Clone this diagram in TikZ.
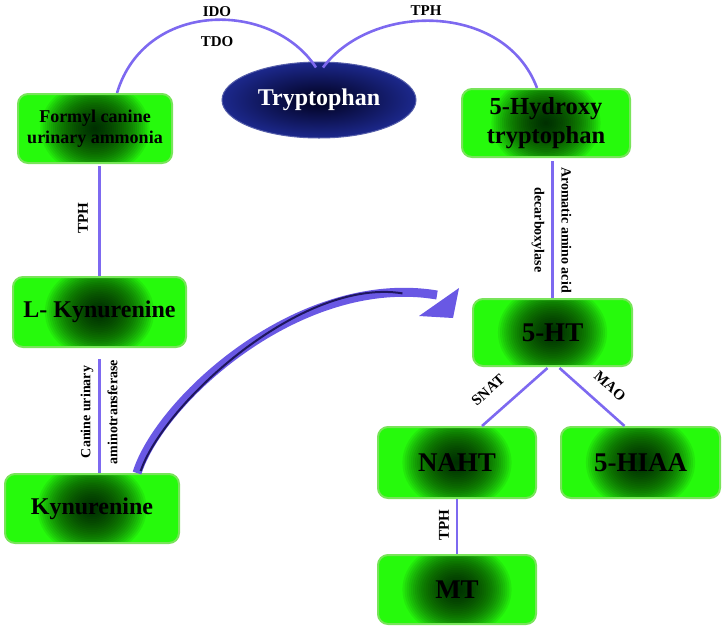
\documentclass[tikz,border=0pt]{standalone}
\usepackage{fontspec}
\setmainfont{Liberation Serif}
\usetikzlibrary{shapes.geometric,arrows.meta,calc}
\definecolor{boxg}{RGB}{38,250,12}
\definecolor{boxb}{RGB}{120,228,90}
\definecolor{glowc}{RGB}{0,20,0}
\definecolor{lnc}{RGB}{125,105,240}
\definecolor{ellout}{RGB}{28,40,140}
\definecolor{ellin}{RGB}{0,0,28}
\definecolor{arrc}{RGB}{105,88,228}
\definecolor{arrd}{RGB}{30,22,95}
\begin{document}
\begin{tikzpicture}[x=1pt,y=-1pt,
  box/.style={draw=boxb, line width=2pt, fill=boxg, rounded corners=10pt, inner sep=0pt, align=center,
    font=\bfseries\fontsize{24}{28}\selectfont,
    path picture={\foreach \k in {1,...,26}{\fill[glowc, opacity=0.07] (path picture bounding box.center) ellipse [x radius=2.1*\k pt, y radius=1.8*\k pt];}}},
  bigbox/.style={box, font=\bfseries\fontsize{27}{30}\selectfont},
  conn/.style={draw=lnc, line width=2.6pt},
  lab/.style={font=\bfseries\fontsize{15}{17}\selectfont, inner sep=0pt},
  rlab/.style={lab, align=center, font=\bfseries\fontsize{14}{27}\selectfont},
]
\useasboundingbox (0,0) rectangle (725,630);

% nodes
\node[box, minimum width=154pt, minimum height=69pt, font=\bfseries\fontsize{18}{21}\selectfont] (formyl) at (95,128.5) {Formyl canine\\urinary ammonia};
\node[ellipse, minimum width=194pt, minimum height=76pt, inner color=ellin, outer color=ellout, draw=ellout!75!white, line width=1pt, text=white, font=\bfseries\fontsize{24}{28}\selectfont] (tryp) at (319,100) {Tryptophan};
\node[box, minimum width=168pt, minimum height=68pt, font=\bfseries\fontsize{24.5}{29}\selectfont] (hyd) at (546,123) {5-Hydroxy\\tryptophan};
\node[box, minimum width=173pt, minimum height=70pt] (lkyn) at (99.5,312) {L- Kynurenine};
\node[box, minimum width=174pt, minimum height=69pt] (kyn) at (92,508.5) {Kynurenine};
\node[bigbox, minimum width=159pt, minimum height=67pt] (ht) at (552.5,332.5) {5-HT};
\node[bigbox, minimum width=158pt, minimum height=71pt] (naht) at (457,462.5) {NAHT};
\node[bigbox, minimum width=159pt, minimum height=71pt] (hiaa) at (640.5,462.5) {5-HIAA};
\node[bigbox, minimum width=158pt, minimum height=69pt] (mt) at (457,589.5) {MT};

% connectors
\draw[conn] ($(formyl.north)+(22,0)$) .. controls (145,0) and (272,0) .. ($(tryp.north)+(-3,6)$);
\draw[conn] ($(tryp.north)+(4,6)$) .. controls (372,2) and (505,2) .. ($(hyd.north)+(-9,0)$);
\draw[conn] ($(formyl.south -| lkyn.north)+(0,2)$) -- (lkyn.north);
\draw[conn] ($(lkyn.south)+(0,11)$) -- (lkyn.south |- kyn.north);
\draw[conn] ($(hyd.south -| ht.north)+(0,3)$) -- (ht.north);
\draw[conn] ($(ht.south)+(-5,1)$) -- ($(naht.north)+(25,0)$);
\draw[conn] ($(ht.south)+(7,1)$) -- ($(hiaa.north)+(-16,0)$);
\draw[conn] (naht.south) -- (mt.north);

% big curved arrow
\coordinate (hw) at (ht.north west);
\coordinate (arrstart) at ($(kyn.north)+(45,0)$);
\coordinate (arrbase) at ($(hw)+(-35,-3)$);
\draw[line width=9pt, draw=arrc] (arrstart) .. controls (160,400) and (300,272) .. (arrbase);
\fill[arrc] ($(hw)+(-13,-10)$) -- ($(hw)+(-19,20)$) -- ($(hw)+(-53,18)$) -- cycle;
\draw[line width=2pt, draw=arrd, shorten >=35pt, shorten <=2pt] ($(arrstart)+(3,0)$) .. controls (164,403) and (302,277) .. ($(arrbase)+(0,4)$);

% labels
\node[lab] (ido) at (217,12) {IDO};
\node[lab] (tdo) at (217,42) {TDO};
\node[lab] (tph1) at (426,11) {TPH};
\node[lab, rotate=90] (tph2) at (83,218) {TPH};
\node[rlab, rotate=90] (cua) at (99,412) {Canine urinary\\aminotransferase};
\node[rlab, rotate=-90] (aad) at (551.5,230) {Aromatic amino acid\\decarboxylase};
\node[lab, rotate=42] (snat) at (488,390) {SNAT};
\node[lab, rotate=-42] (mao) at (610,386) {MAO};
\node[lab, rotate=90] (tph3) at (444,525) {TPH};
\end{tikzpicture}
\end{document}
